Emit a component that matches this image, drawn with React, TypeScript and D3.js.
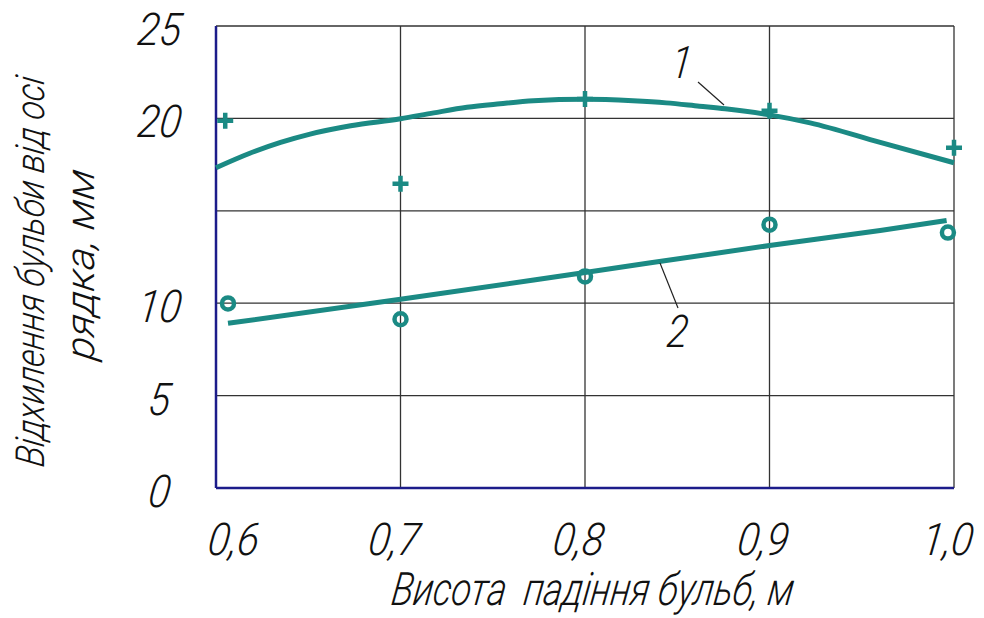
import * as d3 from "d3"
import { useEffect } from "react"

// measured values (x = drop height, m ; y = deviation, mm)
const crossX = [0.605, 0.7, 0.8, 0.9, 1.0]
const crossY = [19.87, 16.47, 21.05, 20.41, 18.41]
const circleX = [0.6065, 0.7, 0.8, 0.9, 0.9967]
const circleY = [9.99, 9.13, 11.45, 14.25, 13.82]

// curve 1 (fitted)
const curve1X = [0.6, 0.618, 0.635, 0.651, 0.673, 0.7, 0.718, 0.736, 0.754, 0.772, 0.8, 0.826, 0.844, 0.862, 0.876, 0.9, 0.922, 0.96, 1.0]
const curve1Y = [17.33, 18.1, 18.7, 19.15, 19.6, 19.98, 20.3, 20.6, 20.79, 20.95, 21.03, 20.95, 20.84, 20.66, 20.52, 20.19, 19.76, 18.7, 17.6]
// curve 2 (fitted)
const curve2X = [0.6065, 0.7, 0.8, 0.9, 0.96, 0.996]
const curve2Y = [8.91, 10.21, 11.66, 13.12, 13.93, 14.47]

const xTicks = [0.6, 0.7, 0.8, 0.9, 1.0]
const xTickLabels = ["0,6", "0,7", "0,8", "0,9", "1,0"]
const yTicks = [0, 5, 10, 20, 25]
const yTickLabels = ["0", "5", "10", "20", "25"]
const xGrid = [0.7, 0.8, 0.9, 1.0]
const yGrid = [5, 10, 15, 20, 25]

const xTitle = "Висота  падіння бульб, м"
const yTitle1 = "Відхилення бульби від осі"
const yTitle2 = "рядка, мм"

const TEAL = "#1b8a84"
const NAVY = "#1c1c8a"
const FONT = "Roboto, 'Open Sans', sans-serif"

export default function App() {
  useEffect(() => {
    document.body.style.margin = "0"

    const svg = d3.select("#chart")
    svg.selectAll("*").remove()

    const x = d3.scaleLinear().domain([0.6, 1.0]).range([216, 954])
    const y = d3.scaleLinear().domain([0, 25]).range([488, 26])

    const g = svg.append("g")

    // grid
    g.selectAll(".vg").data(xGrid).enter().append("line")
      .attr("x1", d => x(d)).attr("x2", d => x(d))
      .attr("y1", y(0)).attr("y2", y(25))
      .attr("stroke", "#333").attr("stroke-width", 1.3)
    g.selectAll(".hg").data(yGrid).enter().append("line")
      .attr("x1", x(0.6)).attr("x2", x(1.0))
      .attr("y1", d => y(d)).attr("y2", d => y(d))
      .attr("stroke", "#333").attr("stroke-width", 1.3)

    // axes (blue)
    g.append("line").attr("x1", x(0.6)).attr("x2", x(0.6)).attr("y1", y(25)).attr("y2", y(0))
      .attr("stroke", NAVY).attr("stroke-width", 2.5)
    g.append("line").attr("x1", x(0.6)).attr("x2", x(1.0)).attr("y1", y(0)).attr("y2", y(0))
      .attr("stroke", NAVY).attr("stroke-width", 2.5)

    // curves
    const c1 = curve1X.map((v, i) => [v, curve1Y[i]] as [number, number])
    const c2 = curve2X.map((v, i) => [v, curve2Y[i]] as [number, number])
    const line = d3.line<[number, number]>().x(d => x(d[0])).y(d => y(d[1])).curve(d3.curveMonotoneX)
    g.append("path").attr("d", line(c1)).attr("fill", "none").attr("stroke", TEAL).attr("stroke-width", 5)
    g.append("path").attr("d", line(c2)).attr("fill", "none").attr("stroke", TEAL).attr("stroke-width", 5)

    // markers
    crossX.forEach((v, i) => {
      const cx = x(v), cy = y(crossY[i])
      g.append("path")
        .attr("d", `M${cx - 8},${cy}H${cx + 8}M${cx},${cy - 8}V${cy + 8}`)
        .attr("stroke", TEAL).attr("stroke-width", 4.5).attr("fill", "none")
    })
    g.selectAll(".circ").data(circleX.map((v, i) => [v, circleY[i]])).enter().append("circle")
      .attr("cx", d => x(d[0])).attr("cy", d => y(d[1])).attr("r", 6)
      .attr("fill", "none").attr("stroke", TEAL).attr("stroke-width", 4.5)

    // leaders + curve numbers
    g.append("line").attr("x1", 698).attr("y1", 82).attr("x2", 724).attr("y2", 105)
      .attr("stroke", "#222").attr("stroke-width", 1.2)
    g.append("line").attr("x1", 678).attr("y1", 308).attr("x2", 660).attr("y2", 263)
      .attr("stroke", "#222").attr("stroke-width", 1.2)

    const txt = (s: string, tx: number, ty: number, size: number, sx: number, rot = 0, len = 0) => {
      const t = g.append("text")
        .attr("transform", `translate(${tx},${ty}) rotate(${rot}) scale(${sx},1) skewX(-8)`)
        .attr("text-anchor", "middle")
        .attr("font-family", FONT)
        .attr("font-style", "italic")
        .attr("font-weight", 300)
        .attr("font-size", size)
        .attr("fill", "#111")
        .style("white-space", "pre")
        .text(s)
      if (len) t.attr("textLength", len).attr("lengthAdjust", "spacingAndGlyphs")
      return t
    }

    txt("1", 680, 78, 45, 0.85)
    txt("2", 676, 347, 45, 0.85)

    xTicks.forEach((v, i) => {
      txt(xTickLabels[i], Math.max(x(v) - 8, 232), 555, 45, 0.9)
    })
    yTicks.forEach((v, i) => {
      txt(yTickLabels[i], 158, y(v) + 19, 45, 0.9)
    })

    txt(xTitle, 591, 605, 46, 1, 0, 402)
    txt(yTitle1, 44, 273, 40, 1, -90, 390)
    txt(yTitle2, 94, 266, 40, 1, -90, 190)
  })

  return (
    <svg id="chart" width={984} height={618} style={{ display: "block", background: "#fff" }}></svg>
  )
}
